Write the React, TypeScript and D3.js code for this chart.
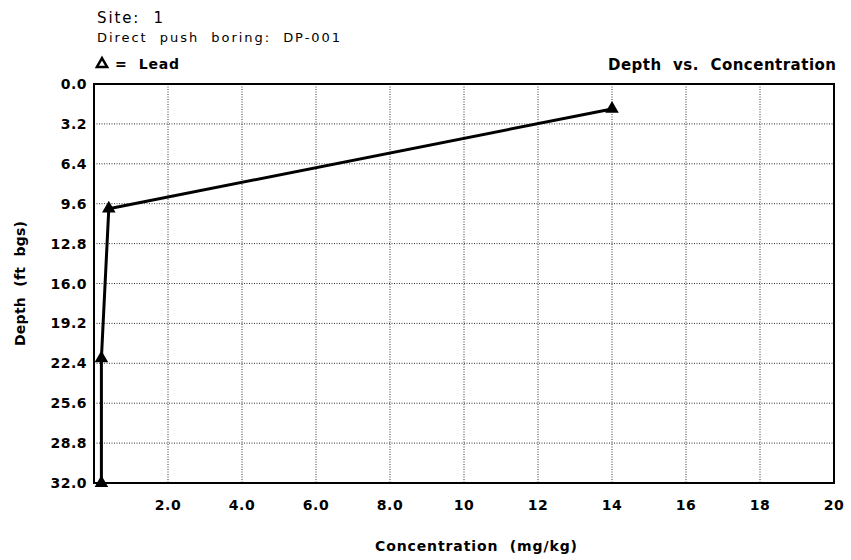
import React from 'react';
import * as d3 from 'd3';

// Lead concentration by sample depth
const concentration = [14.0, 0.4, 0.2, 0.2];
const depth = [2.0, 10.0, 22.0, 32.0];

const xTickValues = [2, 4, 6, 8, 10, 12, 14, 16, 18, 20];
const xTickLabels = ['2.0', '4.0', '6.0', '8.0', '10', '12', '14', '16', '18', '20'];
const yTickValues = [0, 3.2, 6.4, 9.6, 12.8, 16.0, 19.2, 22.4, 25.6, 28.8, 32.0];
const yTickLabels = ['0.0', '3.2', '6.4', '9.6', '12.8', '16.0', '19.2', '22.4', '25.6', '28.8', '32.0'];

const WIDTH = 851;
const HEIGHT = 560;
const margin = { top: 84, right: 17, bottom: 77, left: 94 };
const FONT = "'DejaVu Sans', sans-serif";
const pre = { whiteSpace: 'pre' as const };

const App: React.FC = () => {
    const plotW = WIDTH - margin.left - margin.right;
    const plotH = HEIGHT - margin.top - margin.bottom;

    const xScale = d3.scaleLinear().domain([0, 20]).range([0, plotW]);
    const yScale = d3.scaleLinear().domain([0, 32]).range([0, plotH]);

    const points = concentration.map((c, i) => ({ c, d: depth[i] }));

    const line = d3.line<{ c: number; d: number }>()
        .x(p => xScale(p.c))
        .y(p => yScale(p.d));

    const triangle = d3.symbol().type(d3.symbolTriangle).size(80)() as string;

    return (
        <svg
            width={WIDTH}
            height={HEIGHT}
            style={{ position: 'absolute', left: 0, top: 0, background: '#fff' }}
            fontFamily={FONT}
        >
            {/* Header */}
            <text x={97} y={23} fontSize={15} style={pre} fill="#000" textLength={66} lengthAdjust="spacing">Site:  1</text>
            <text x={97} y={42} fontSize={13} style={pre} fill="#000" textLength={243} lengthAdjust="spacing">
                Direct  push  boring:  DP-001
            </text>
            <path d={d3.symbol().type(d3.symbolTriangle).size(45)() as string} fill="none" stroke="#000"
                strokeWidth={2.5} strokeLinejoin="miter" transform="translate(102,64)" />
            <text x={115} y={69} fontSize={14} fontWeight="bold" style={pre} fill="#000" textLength={64} lengthAdjust="spacing">=  Lead</text>
            <text x={836} y={70} fontSize={15} fontWeight="bold" textAnchor="end" style={pre} fill="#000" textLength={228} lengthAdjust="spacing">
                Depth  vs.  Concentration
            </text>

            <g transform={`translate(${margin.left},${margin.top})`}>
                {/* Grid */}
                {xTickValues.filter(v => v < 20).map(v => (
                    <line key={`gx${v}`} x1={xScale(v)} x2={xScale(v)} y1={0} y2={plotH}
                        stroke="#333" strokeWidth={1} strokeDasharray="1,1.5" />
                ))}
                {yTickValues.filter(v => v > 0 && v < 32).map(v => (
                    <line key={`gy${v}`} x1={0} x2={plotW} y1={yScale(v)} y2={yScale(v)}
                        stroke="#333" strokeWidth={1} strokeDasharray="1,1.5" />
                ))}

                {/* Frame */}
                <rect x={0} y={0} width={plotW} height={plotH} fill="none" stroke="#000" strokeWidth={2} />

                {/* Series */}
                <path d={line(points) as string} fill="none" stroke="#000" strokeWidth={3} strokeLinejoin="round" />
                {points.map((p, i) => (
                    <path key={i} d={triangle} transform={`translate(${xScale(p.c)},${yScale(p.d)})`} fill="#000" />
                ))}

                {/* Y axis labels */}
                {yTickValues.map((v, i) => (
                    <text key={`yl${v}`} x={-7} y={yScale(v)} dy="0.36em" textAnchor="end"
                        fontSize={14} fontWeight="bold" letterSpacing={0.5} fill="#000">
                        {yTickLabels[i]}
                    </text>
                ))}

                {/* X axis labels */}
                {xTickValues.map((v, i) => (
                    <text key={`xl${v}`} x={xScale(v)} y={plotH + 27} textAnchor="middle"
                        fontSize={14} fontWeight="bold" letterSpacing={0.5} fill="#000">
                        {xTickLabels[i]}
                    </text>
                ))}
            </g>

            {/* Axis titles */}
            <text x={476} y={551} textAnchor="middle" fontSize={14} fontWeight="bold" style={pre} fill="#000"
                textLength={202} lengthAdjust="spacing">
                Concentration  (mg/kg)
            </text>
            <text transform={`translate(25,${margin.top + (HEIGHT - margin.top - margin.bottom) / 2}) rotate(-90)`}
                textAnchor="middle" fontSize={14} fontWeight="bold" style={pre} fill="#000"
                textLength={125} lengthAdjust="spacing">
                Depth  (ft  bgs)
            </text>
        </svg>
    );
};

export default App;
